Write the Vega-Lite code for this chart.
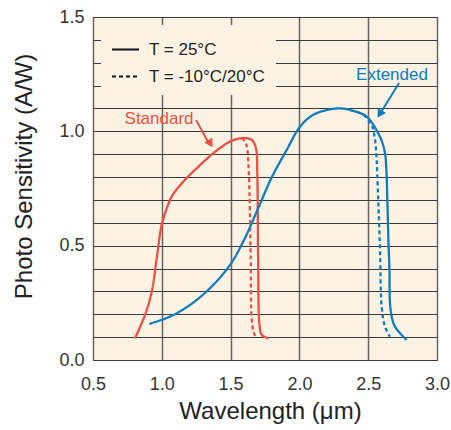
{
  "$schema": "https://vega.github.io/schema/vega-lite/v6.json",
  "autosize": {"type": "none"},
  "width": 344,
  "height": 343,
  "padding": {"left": 93, "top": 17, "right": 14, "bottom": 70},
  "background": "white",
  "config": {
    "font": "Liberation Sans",
    "view": {"fill": "#fdf3e5", "stroke": "#444", "strokeWidth": 1}
  },
  "datasets": {
    "curves": [
      {"series": "Standard", "cond": "T = 25°C", "x": 0.805, "y": 0.095},
      {"series": "Standard", "cond": "T = 25°C", "x": 0.878, "y": 0.197},
      {"series": "Standard", "cond": "T = 25°C", "x": 0.927, "y": 0.299},
      {"series": "Standard", "cond": "T = 25°C", "x": 0.963, "y": 0.445},
      {"series": "Standard", "cond": "T = 25°C", "x": 0.999, "y": 0.59},
      {"series": "Standard", "cond": "T = 25°C", "x": 1.036, "y": 0.663},
      {"series": "Standard", "cond": "T = 25°C", "x": 1.072, "y": 0.715},
      {"series": "Standard", "cond": "T = 25°C", "x": 1.156, "y": 0.78},
      {"series": "Standard", "cond": "T = 25°C", "x": 1.253, "y": 0.838},
      {"series": "Standard", "cond": "T = 25°C", "x": 1.374, "y": 0.904},
      {"series": "Standard", "cond": "T = 25°C", "x": 1.495, "y": 0.955},
      {"series": "Standard", "cond": "T = 25°C", "x": 1.58, "y": 0.97},
      {"series": "Standard", "cond": "T = 25°C", "x": 1.653, "y": 0.963},
      {"series": "Standard", "cond": "T = 25°C", "x": 1.684, "y": 0.926},
      {"series": "Standard", "cond": "T = 25°C", "x": 1.694, "y": 0.81},
      {"series": "Standard", "cond": "T = 25°C", "x": 1.70, "y": 0.445},
      {"series": "Standard", "cond": "T = 25°C", "x": 1.71, "y": 0.153},
      {"series": "Standard", "cond": "T = 25°C", "x": 1.726, "y": 0.11},
      {"series": "Standard", "cond": "T = 25°C", "x": 1.774, "y": 0.095},
      {"series": "Standard", "cond": "T = -10°C/20°C", "x": 1.58, "y": 0.97},
      {"series": "Standard", "cond": "T = -10°C/20°C", "x": 1.605, "y": 0.955},
      {"series": "Standard", "cond": "T = -10°C/20°C", "x": 1.62, "y": 0.926},
      {"series": "Standard", "cond": "T = -10°C/20°C", "x": 1.633, "y": 0.81},
      {"series": "Standard", "cond": "T = -10°C/20°C", "x": 1.646, "y": 0.445},
      {"series": "Standard", "cond": "T = -10°C/20°C", "x": 1.653, "y": 0.183},
      {"series": "Standard", "cond": "T = -10°C/20°C", "x": 1.67, "y": 0.117},
      {"series": "Standard", "cond": "T = -10°C/20°C", "x": 1.69, "y": 0.095},
      {"series": "Extended", "cond": "T = 25°C", "x": 0.909, "y": 0.158},
      {"series": "Extended", "cond": "T = 25°C", "x": 1.06, "y": 0.19},
      {"series": "Extended", "cond": "T = 25°C", "x": 1.205, "y": 0.241},
      {"series": "Extended", "cond": "T = 25°C", "x": 1.35, "y": 0.314},
      {"series": "Extended", "cond": "T = 25°C", "x": 1.496, "y": 0.416},
      {"series": "Extended", "cond": "T = 25°C", "x": 1.592, "y": 0.518},
      {"series": "Extended", "cond": "T = 25°C", "x": 1.70, "y": 0.663},
      {"series": "Extended", "cond": "T = 25°C", "x": 1.80, "y": 0.80},
      {"series": "Extended", "cond": "T = 25°C", "x": 1.907, "y": 0.918},
      {"series": "Extended", "cond": "T = 25°C", "x": 2.004, "y": 1.02},
      {"series": "Extended", "cond": "T = 25°C", "x": 2.10, "y": 1.072},
      {"series": "Extended", "cond": "T = 25°C", "x": 2.22, "y": 1.096},
      {"series": "Extended", "cond": "T = 25°C", "x": 2.30, "y": 1.10},
      {"series": "Extended", "cond": "T = 25°C", "x": 2.37, "y": 1.093},
      {"series": "Extended", "cond": "T = 25°C", "x": 2.49, "y": 1.064},
      {"series": "Extended", "cond": "T = 25°C", "x": 2.573, "y": 0.991},
      {"series": "Extended", "cond": "T = 25°C", "x": 2.60, "y": 0.955},
      {"series": "Extended", "cond": "T = 25°C", "x": 2.622, "y": 0.904},
      {"series": "Extended", "cond": "T = 25°C", "x": 2.633, "y": 0.82},
      {"series": "Extended", "cond": "T = 25°C", "x": 2.639, "y": 0.70},
      {"series": "Extended", "cond": "T = 25°C", "x": 2.648, "y": 0.5},
      {"series": "Extended", "cond": "T = 25°C", "x": 2.654, "y": 0.408},
      {"series": "Extended", "cond": "T = 25°C", "x": 2.663, "y": 0.219},
      {"series": "Extended", "cond": "T = 25°C", "x": 2.695, "y": 0.146},
      {"series": "Extended", "cond": "T = 25°C", "x": 2.78, "y": 0.088},
      {"series": "Extended", "cond": "T = -10°C/20°C", "x": 2.37, "y": 1.093},
      {"series": "Extended", "cond": "T = -10°C/20°C", "x": 2.465, "y": 1.072},
      {"series": "Extended", "cond": "T = -10°C/20°C", "x": 2.525, "y": 1.028},
      {"series": "Extended", "cond": "T = -10°C/20°C", "x": 2.545, "y": 0.98},
      {"series": "Extended", "cond": "T = -10°C/20°C", "x": 2.557, "y": 0.918},
      {"series": "Extended", "cond": "T = -10°C/20°C", "x": 2.573, "y": 0.70},
      {"series": "Extended", "cond": "T = -10°C/20°C", "x": 2.586, "y": 0.481},
      {"series": "Extended", "cond": "T = -10°C/20°C", "x": 2.598, "y": 0.233},
      {"series": "Extended", "cond": "T = -10°C/20°C", "x": 2.622, "y": 0.146},
      {"series": "Extended", "cond": "T = -10°C/20°C", "x": 2.658, "y": 0.102}
    ],
    "labels": [
      {"series": "Standard", "x": 0.98, "y": 1.052, "x2": 1.249, "y2": 1.049, "tx": 1.345, "ty": 0.945, "hx": 1.353, "hy": 0.946, "angle": 149},
      {"series": "Extended", "x": 2.673, "y": 1.246, "x2": 2.724, "y2": 1.211, "tx": 2.59, "ty": 1.08, "hx": 2.584, "hy": 1.076, "angle": 212}
    ]
  },
  "encoding": {
    "x": {
      "field": "x", "type": "quantitative",
      "scale": {"domain": [0.5, 3.0], "nice": false, "zero": false},
      "axis": {
        "values": [0.5, 1.0, 1.5, 2.0, 2.5, 3.0], "format": ".1f",
        "title": "Wavelength (μm)", "titleFontSize": 24, "titleFontWeight": "normal",
        "titleColor": "#222", "titlePadding": 6, "titleX": 177,
        "labelFontSize": 18, "labelColor": "#333", "labelPadding": 15,
        "labelFlush": false, "labelOverlap": false,
        "ticks": false, "domain": false,
        "grid": true, "gridColor": "#6b6560", "gridWidth": 1.5
      }
    },
    "y": {
      "field": "y", "type": "quantitative",
      "scale": {"domain": [0, 1.5], "nice": false},
      "axis": {
        "values": [0, 0.1, 0.2, 0.3, 0.4, 0.5, 0.6, 0.7, 0.8, 0.9, 1.0, 1.1, 1.2, 1.3, 1.4, 1.5],
        "format": ".1f",
        "labelExpr": "indexof(['0.0','0.5','1.0','1.5'], datum.label) >= 0 ? datum.label : ''",
        "title": "Photo Sensitivity (A/W)", "titleFontSize": 24, "titleFontWeight": "normal",
        "titleColor": "#222", "titlePadding": 22, "titleY": 159,
        "labelFontSize": 18, "labelColor": "#333", "labelPadding": 9,
        "labelFlush": false, "labelOverlap": false,
        "ticks": false, "domain": false,
        "grid": true, "gridColor": "#3a3a3a", "gridWidth": 1
      }
    }
  },
  "layer": [
    {
      "data": {"name": "curves"},
      "mark": {"type": "line", "strokeWidth": 2.3, "interpolate": "catmull-rom"},
      "encoding": {
        "color": {
          "field": "series", "type": "nominal",
          "scale": {"domain": ["Standard", "Extended"], "range": ["#ef4e43", "#0d7cc1"]},
          "legend": null
        },
        "strokeDash": {
          "field": "cond", "type": "nominal",
          "scale": {"domain": ["T = 25°C", "T = -10°C/20°C"], "range": [[1, 0], [4, 3]]},
          "legend": {
            "title": null, "orient": "none", "legendX": 8, "legendY": 8,
            "fillColor": "#fdf3e5", "padding": 10, "rowPadding": 4,
            "symbolType": "stroke", "symbolSize": 729, "symbolStrokeColor": "#111",
            "symbolStrokeWidth": 2, "labelFontSize": 17, "labelColor": "#222",
            "labelOffset": 9, "labelLimit": 300
          }
        }
      }
    },
    {
      "data": {"name": "labels"},
      "mark": {"type": "text", "fontSize": 17, "baseline": "middle", "align": "center"},
      "encoding": {
        "text": {"field": "series"},
        "color": {"field": "series", "type": "nominal", "legend": null}
      }
    },
    {
      "data": {"name": "labels"},
      "mark": {"type": "rule", "strokeWidth": 2},
      "encoding": {
        "x": {"field": "x2", "type": "quantitative"},
        "y": {"field": "y2", "type": "quantitative"},
        "x2": {"field": "tx"},
        "y2": {"field": "ty"},
        "color": {"field": "series", "type": "nominal", "legend": null}
      }
    },
    {
      "data": {"name": "labels"},
      "mark": {"type": "point", "shape": "triangle-up", "filled": true, "size": 90, "opacity": 1},
      "encoding": {
        "x": {"field": "hx", "type": "quantitative"},
        "y": {"field": "hy", "type": "quantitative"},
        "angle": {"field": "angle", "type": "quantitative", "scale": null},
        "color": {"field": "series", "type": "nominal", "legend": null}
      }
    }
  ]
}
